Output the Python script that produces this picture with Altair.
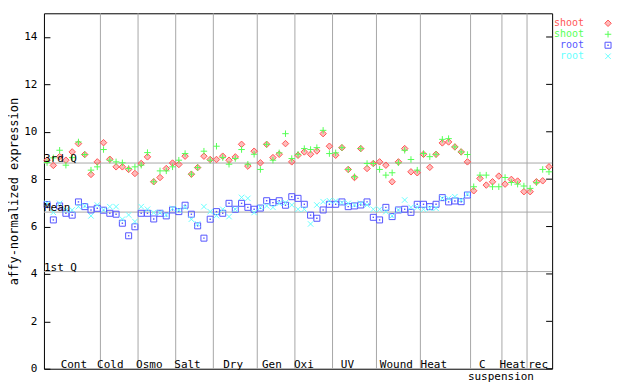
import altair as alt
import pandas as pd

# ---- data ----
shoot_red = [8.80, 8.58, 8.95, 8.80, 9.15, 9.50, 9.04, 8.20, 8.73,
             9.54, 8.84, 8.52, 8.52, 8.41, 8.24,
             8.66, 8.94, 7.89, 8.07, 8.45, 8.68,
             8.62, 8.97, 8.21, 8.49, 8.97, 8.83,
             8.83, 8.97, 8.80, 8.94, 9.47, 8.55, 9.18,
             8.69, 9.47, 8.91, 9.05, 9.50, 8.73,
             9.01, 9.15, 9.05, 9.19, 9.92, 9.39,
             9.01, 9.33, 8.41, 8.07, 9.29, 8.45, 8.66,
             8.73, 8.59, 7.89, 8.73, 9.29, 8.31, 8.27,
             9.05, 8.50, 9.05, 9.53, 9.57, 9.36, 9.15, 8.73,
             7.51, 8.03, 7.75, 7.89, 8.13,
             7.79, 7.99, 7.92, 7.47,
             7.47, 7.89, 7.93, 8.52]
shoot_green = [8.70, 8.90, 9.22, 8.59, 8.91, 9.57, 9.04, 8.38, 8.52,
               9.25, 8.80, 8.73, 8.69, 8.45, 8.52,
               8.59, 9.12, 7.89, 8.35, 8.35, 8.52,
               8.80, 9.08, 8.21, 8.49, 9.18, 8.80,
               9.39, 8.91, 8.63, 8.87, 9.25, 8.63, 9.05,
               8.41, 9.47, 8.80, 9.11, 9.92, 8.87,
               9.05, 9.29, 9.25, 9.33, 10.06, 9.08,
               9.11, 9.33, 8.41, 8.10, 9.29, 8.66, 8.66,
               8.41, 8.17, 8.27, 8.69, 9.22, 8.83, 8.38,
               9.08, 8.95, 9.05, 9.68, 9.71, 9.36, 9.15, 9.04,
               7.68, 8.17, 8.17, 7.68, 7.68,
               8.07, 7.86, 7.79, 7.71,
               7.61, 7.85, 8.41, 8.31]
root_blue = [6.93, 6.28, 6.87, 6.56, 6.48, 7.04, 6.84, 6.70, 6.77,
             6.69, 6.56, 6.52, 6.14, 5.61, 5.99,
             6.56, 6.56, 6.32, 6.56, 6.45, 6.70,
             6.63, 6.90, 6.52, 6.03, 5.51, 6.31,
             6.63, 6.56, 6.98, 6.73, 6.98, 6.81, 6.73,
             6.78, 7.09, 7.01, 7.09, 6.90, 7.26,
             7.19, 6.94, 6.48, 6.35, 6.70, 6.94,
             6.94, 7.04, 6.84, 6.87, 6.91, 7.04, 6.39,
             6.28, 6.81, 6.42, 6.70, 6.73, 6.60, 6.94,
             6.94, 6.84, 6.94, 7.22, 7.04, 7.08, 7.05, 7.33]
root_cyan = [6.98, 6.60, 6.98, 6.70, 6.70, 6.84, 6.87, 6.45, 6.91,
             6.70, 6.84, 6.84, 6.31, 6.49, 6.21,
             6.84, 6.73, 6.59, 6.59, 6.49, 6.77,
             6.70, 6.81, 6.31, 6.11, 6.84, 6.63,
             6.46, 6.73, 6.42, 6.73, 7.23, 7.19, 6.59,
             6.81, 6.87, 6.81, 6.98, 7.01, 6.91,
             6.73, 6.73, 6.11, 6.91, 7.05, 7.09,
             7.08, 7.01, 6.98, 6.91, 6.98, 6.91, 6.73,
             6.73, 6.63, 6.45, 6.70, 7.12, 6.81, 6.81,
             6.73, 6.77, 6.77, 7.19, 7.19, 7.26, 7.12, 7.37]

cat_labels = ["Cont", "Cold", "Osmo", "Salt", "Dry", "Gen", "Oxi", "UV",
              "Wound", "Heat", "C", "Heat", "rec"]
cat_label_pos = [4.77, 10.58, 16.79, 22.88, 30.16, 36.33, 41.43, 48.38,
                 56.17, 62.14, 69.86, 74.7, 78.77]
sub_labels = ["suspension"]
sub_label_pos = [72.84]
boundaries = [9, 15, 21, 27, 34, 40, 46, 53, 60, 68, 73, 77]
level_names = ["3rd Q", "Mean", "1st Q"]
level_values = [8.68, 6.61, 4.10]
y_ticks = [0, 2, 4, 6, 8, 10, 12, 14]
n_samples = 81

legend_names = ["shoot", "shoot", "root", "root"]
colors = ["#ff5555", "#55ff55", "#5555ff", "#66ffff"]

FONT = "DejaVu Sans Mono"
GRID = "#a8a8a8"
W, H = 509, 356

xs = alt.Scale(domain=[0, n_samples], nice=False, zero=False)
ys = alt.Scale(domain=[0, 15], nice=False, zero=True)
y_axis = alt.Axis(values=y_ticks, title="affy-normalized expression",
                  domain=False, grid=False, ticks=True, tickSize=6,
                  tickColor="black", offset=-6, labelPadding=7,
                  labelFont=FONT, labelFontSize=11, labelColor="black",
                  titleFont=FONT, titleFontSize=12, titleFontWeight="normal",
                  titleColor="black", titlePadding=3)


def series_df(vals):
    return pd.DataFrame({"pos": [i + 0.5 for i in range(len(vals))], "value": vals})


def X(field="pos"):
    return alt.X(f"{field}:Q", scale=xs, axis=None)


def Y(field="value"):
    return alt.Y(f"{field}:Q", scale=ys, axis=y_axis)


# grid: vertical separators and quartile lines
sep = alt.Chart(pd.DataFrame({"b": boundaries})).mark_rule(
    color=GRID, strokeWidth=1).encode(x=X("b"))
lev_df = pd.DataFrame({"name": level_names, "level": level_values})
lev = alt.Chart(lev_df).mark_rule(color=GRID, strokeWidth=1).encode(y=Y("level"))

plus_path = "M-1,0H1M0,-1V1"
x_path = "M-1,-1L1,1M-1,1L1,-1"

red_pts = alt.Chart(series_df(shoot_red)).mark_point(
    shape="diamond", filled=False, color=colors[0], fill=colors[0], fillOpacity=0.4,
    size=42, strokeWidth=1, opacity=1).encode(x=X(), y=Y())
green_pts = alt.Chart(series_df(shoot_green)).mark_point(
    shape=plus_path, filled=False, color=colors[1], size=42, strokeWidth=1,
    opacity=1).encode(x=X(), y=Y())
blue_pts = alt.Chart(series_df(root_blue)).mark_point(
    shape="square", filled=False, color=colors[2], size=36, strokeWidth=1,
    opacity=1).encode(x=X(), y=Y())
blue_dot = alt.Chart(series_df(root_blue)).mark_point(
    shape="square", filled=True, color=colors[2], size=2, opacity=1).encode(x=X(), y=Y())
cyan_pts = alt.Chart(series_df(root_cyan)).mark_point(
    shape=x_path, filled=False, color=colors[3], size=30, strokeWidth=1,
    opacity=1).encode(x=X(), y=Y())

lev_text = alt.Chart(lev_df).mark_text(
    font=FONT, fontSize=11, color="black", align="left", baseline="alphabetic",
    dy=-1).encode(x=alt.value(0), y=Y("level"), text="name:N")

cat_text = alt.Chart(pd.DataFrame({"lab": cat_labels, "p": cat_label_pos})).mark_text(
    font=FONT, fontSize=11, color="black", align="center", baseline="alphabetic"
).encode(x=X("p"), y=alt.value(355), text="lab:N")
sub_text = alt.Chart(pd.DataFrame({"lab": sub_labels, "p": sub_label_pos})).mark_text(
    font=FONT, fontSize=11, color="black", align="center", baseline="alphabetic"
).encode(x=X("p"), y=alt.value(367), text="lab:N")

# right-hand inside ticks
rticks = alt.Chart(pd.DataFrame({"t": y_ticks})).mark_rule(color="black").encode(
    y=Y("t"), x=alt.value(W - 6), x2=alt.value(W))

# manual legend
leg_layers = []
leg_shapes = [("diamond", 42), (plus_path, 42), ("square", 36), (x_path, 30)]
leg_df = pd.DataFrame({"name": legend_names, "color": colors})
for k in range(4):
    row = leg_df.iloc[[k]]
    ly = 10 + k * 11
    leg_layers.append(alt.Chart(row).mark_text(
        font=FONT, fontSize=10, align="right", baseline="middle", color=colors[k]
    ).encode(x=alt.value(541), y=alt.value(ly), text="name:N"))
    shp, sz = leg_shapes[k]
    extra = {"fill": colors[k], "fillOpacity": 0.4} if k == 0 else {}
    leg_layers.append(alt.Chart(row).mark_point(
        shape=shp, filled=False, size=sz, strokeWidth=1, color=colors[k], opacity=1,
        **extra
    ).encode(x=alt.value(565), y=alt.value(ly)))
    if k == 2:
        leg_layers.append(alt.Chart(row).mark_point(
            shape="square", filled=True, size=2, color=colors[k], opacity=1
        ).encode(x=alt.value(565), y=alt.value(ly)))

chart = alt.layer(
    sep, lev, red_pts, green_pts, blue_pts, blue_dot, cyan_pts,
    lev_text, cat_text, sub_text, rticks, *leg_layers
).properties(
    width=W, height=H,
    autosize=alt.AutoSizeParams(type="none"),
    padding={"left": 36, "top": 5, "right": 80, "bottom": 14},
    background="white",
).configure_view(stroke="black", strokeWidth=1)

chart.save("out.html", embed_options={"renderer": "svg", "actions": False})
